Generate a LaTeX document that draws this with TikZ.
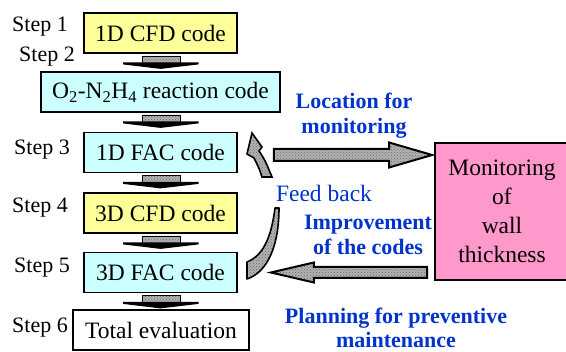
\documentclass[tikz,border=0pt]{standalone}
\usepackage{fontspec}
\setmainfont{Liberation Serif}
\usetikzlibrary{patterns,calc}

\definecolor{boxyellow}{HTML}{FFFF99}
\definecolor{boxcyan}{HTML}{CCFFFF}
\definecolor{boxpink}{HTML}{FF99CC}
\definecolor{labelblue}{HTML}{0033CC}

\tikzset{
  codebox/.style={draw=black, line width=1.8pt, minimum width=#1,
    minimum height=40, inner sep=0pt, font=\fontsize{23.5}{28}\selectfont},
  codebox/.default=153,
  steplabel/.style={anchor=east, inner sep=0pt, font=\fontsize{22}{26}\selectfont},
  bluelabel/.style={text=labelblue, align=center, inner sep=0pt,
    font=\bfseries\fontsize{22}{24.5}\selectfont},
  arrowfill/.style={preaction={fill=gray!60}, pattern=crosshatch dots,
    pattern color=black!60},
  blockarrow/.style={arrowfill, draw=black, line width=2pt, line join=miter},
  stepdown/.pic={
    \path[arrowfill, draw=black, line width=0.4pt] (-18.5,2) rectangle (19.5,9);
    \fill[black] (-37.5,8.5) -- (38,8.5) -- (38,10.5) -- (0,15) -- (-37.5,10.5) -- cycle;
  }
}

\begin{document}
\begin{tikzpicture}[x=1pt, y=-1pt]
  \useasboundingbox (0,0) rectangle (566,352);

  % code boxes of the six steps
  \node[codebox, fill=boxyellow] (cfdA) at (160.5,33) {1D CFD code};
  \node[codebox=239, fill=boxcyan] (react) at (160.5,92)
    {O\textsubscript{2}-N\textsubscript{2}H\textsubscript{4} reaction code};
  \node[codebox, fill=boxcyan] (facA) at (160.5,152.5) {1D FAC code};
  \node[codebox, fill=boxyellow] (cfdB) at (160.5,213) {3D CFD code};
  \node[codebox, fill=boxcyan] (facB) at (160.5,272.5) {3D FAC code};
  \node[codebox=176, fill=white] (total) at (161,330) {Total evaluation};

  % step labels
  \node[steplabel] (s1) at (68,27) {Step 1};
  \node[steplabel] (s2) at (75,57) {Step 2};
  \node[steplabel] (s3) at (70,150) {Step 3};
  \node[steplabel] (s4) at (68,208) {Step 4};
  \node[steplabel] (s5) at (70,268) {Step 5};
  \node[steplabel] (s6) at (68,328) {Step 6};

  % downward connectors between the steps
  \path (cfdA.south) pic {stepdown};
  \path (react.south) pic {stepdown};
  \path (facA.south) pic {stepdown};
  \path (cfdB.south) pic {stepdown};
  \path (facB.south) pic {stepdown};

  % wall thickness monitoring
  \node[draw=black, line width=1.8pt, fill=boxpink, minimum width=134,
    minimum height=137, inner sep=0pt, align=center,
    font=\fontsize{23.5}{29}\selectfont] (monitor) at (502,211.5)
    {Monitoring\\of\\wall\\thickness};

  % block arrow towards the monitoring box
  \coordinate (rtail) at ($(facA.east)+(36,2.5)$);
  \coordinate (rtip) at ($(monitor.west |- rtail)+(-2,0)$);
  \path[blockarrow] ($(rtail)+(0,-6)$) -- ($(rtip)+(-43,-6)$)
    -- ($(rtip)+(-43,-12.5)$) -- (rtip) -- ($(rtip)+(-43,12.5)$)
    -- ($(rtip)+(-43,6)$) -- ($(rtail)+(0,6)$) -- cycle;

  % block arrow back from the monitoring box
  \coordinate (ltip) at ($(facB.east)+(33,0)$);
  \coordinate (lbase) at ($(monitor.west |- facB.east)+(-7,0)$);
  \path[blockarrow] ($(lbase)+(0,-5.5)$) -- ($(ltip)+(43,-5.5)$)
    -- ($(ltip)+(43,-10)$) -- (ltip) -- ($(ltip)+(43,10)$)
    -- ($(ltip)+(43,5.5)$) -- ($(lbase)+(0,5.5)$) -- cycle;

  % curved feedback arrow from step 5 to step 3
  \path[arrowfill, draw=black, line width=1.6pt, line join=round]
    (247,262) .. controls (262,256) and (271,240) .. (275,208)
    -- (279,208) .. controls (279,245) and (268,272) .. (247,279) -- cycle;
  \path[arrowfill, draw=black, line width=1.6pt, line join=miter]
    (262,177) .. controls (259,168) .. (254,158) -- (247,154) -- (252,133)
    -- (262,147) -- (259,151) .. controls (265,160) .. (272,177) -- cycle;

  % labels of the flows
  \node[bluelabel] (loc) at (354,115.5) {Location for\\monitoring};
  \node[text=labelblue, inner sep=0pt, font=\fontsize{23.5}{28}\selectfont]
    (feed) at (324,193) {Feed back};
  \node[bluelabel] (impr) at (368,235) {Improvement\\of the codes};
  \node[bluelabel] (plan) at (396,328) {Planning for preventive\\maintenance};
\end{tikzpicture}
\end{document}
